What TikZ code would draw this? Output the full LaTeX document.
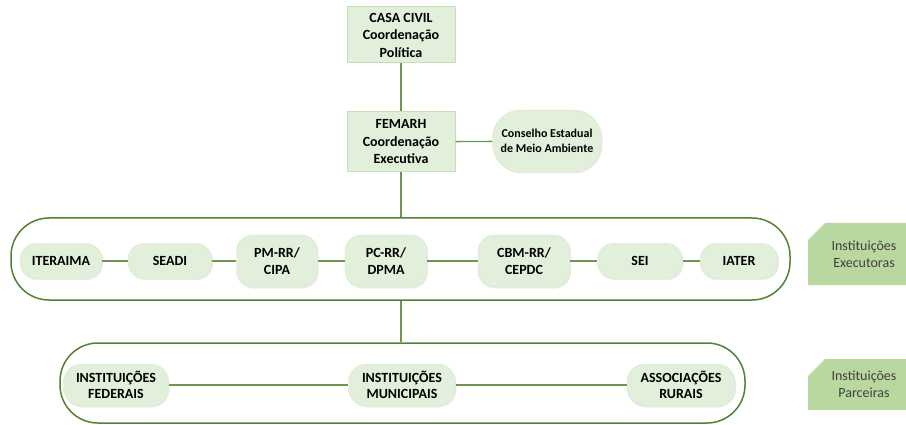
\documentclass[tikz,border=0pt]{standalone}
\usepackage{fontspec}
\setmainfont{Carlito}
\usetikzlibrary{positioning,shapes.misc,shadows}

\definecolor{paleg}{HTML}{E2EFDA}
\definecolor{edgeg}{HTML}{C5DFB4}
\definecolor{lineg}{HTML}{548235}
\definecolor{tagg}{HTML}{B9D8A0}

\tikzset{
  chief/.style={draw=edgeg, fill=paleg, line width=1pt, align=center,
    font=\fontsize{14}{17.5}\selectfont\bfseries, minimum width=108pt, inner sep=2pt},
  unit/.style={fill=paleg, draw=edgeg!70, rounded corners=16pt, align=center,
    font=\fontsize{14}{16.5}\selectfont\bfseries, inner sep=2pt,
    drop shadow={opacity=0.15, shadow xshift=1pt, shadow yshift=-1.5pt}},
  group/.style={draw=lineg, line width=1.5pt, rounded corners=38pt},
  link/.style={draw=lineg!85, line width=1.3pt},
  tag/.style={chamfered rectangle, chamfered rectangle corners=north west,
    chamfered rectangle xsep=14pt, fill=tagg, text=black!75, align=center,
    font=\fontsize{14}{17}\selectfont, minimum width=112pt}
}

\begin{document}
\begin{tikzpicture}[x=1pt, y=-1pt]
  \useasboundingbox (0,0) rectangle (906,425);

  % the two groups
  \node[group, minimum width=779pt, minimum height=82pt] (exe) at (400.5,259) {};
  \node[group, minimum width=685pt, minimum height=80pt] (par) at (402.5,383) {};

  % coordination
  \node[chief, minimum height=56pt] (casa) at (401,35) {CASA CIVIL\\Coordenação\\Política};
  \node[chief, minimum height=60pt] (fem) at (401,142) {FEMARH\\Coordenação\\Executiva};
  \node[unit, minimum width=109pt, minimum height=62pt, rounded corners=28pt,
    font=\fontsize{12}{15}\selectfont\bfseries] (cons) at (547,141) {Conselho Estadual\\de Meio Ambiente};

  % executoras
  \node[unit, minimum width=82pt, minimum height=35pt] (it) at (61,261) {ITERAIMA};
  \node[unit, minimum width=84pt, minimum height=35pt] (se) at (170,261) {SEADI};
  \node[unit, minimum width=81pt, minimum height=52pt] (pm) at (277,261) {PM-RR/\\CIPA};
  \node[unit, minimum width=82pt, minimum height=52pt] (pc) at (386,261) {PC-RR/\\DPMA};
  \node[unit, minimum width=92pt, minimum height=52pt] (cbm) at (524,261) {CBM-RR/\\CEPDC};
  \node[unit, minimum width=85pt, minimum height=35pt] (sei) at (640,261) {SEI};
  \node[unit, minimum width=78pt, minimum height=35pt] (iat) at (739,261) {IATER};

  % parceiras
  \node[unit, minimum width=105pt, minimum height=42pt, rounded corners=18pt] (fed) at (116,385) {INSTITUIÇÕES\\FEDERAIS};
  \node[unit, minimum width=107pt, minimum height=42pt, rounded corners=18pt] (mun) at (402,385) {INSTITUIÇÕES\\MUNICIPAIS};
  \node[unit, minimum width=108pt, minimum height=42pt, rounded corners=18pt] (ass) at (681,385) {ASSOCIAÇÕES\\RURAIS};

  % side tags
  \node[tag, minimum height=62pt] (tex) at (864,254) {Instituições\\Executoras};
  \node[tag, minimum height=51pt] (tpa) at (864,384.5) {Instituições\\Parceiras};

  \draw[link] (casa) -- (fem);
  \draw[link] (fem) -- (cons);
  \draw[link] (fem.south) -- (fem.south |- exe.north);
  \draw[link] (it) -- (se);
  \draw[link] (se) -- (pm);
  \draw[link] (pm) -- (pc);
  \draw[link] (pc) -- (cbm);
  \draw[link] (cbm) -- (sei);
  \draw[link] (sei) -- (iat);
  \draw[link] (fem.south |- exe.south) -- (fem.south |- par.north);
  \draw[link] (fed) -- (mun);
  \draw[link] (mun) -- (ass);

\end{tikzpicture}
\end{document}
